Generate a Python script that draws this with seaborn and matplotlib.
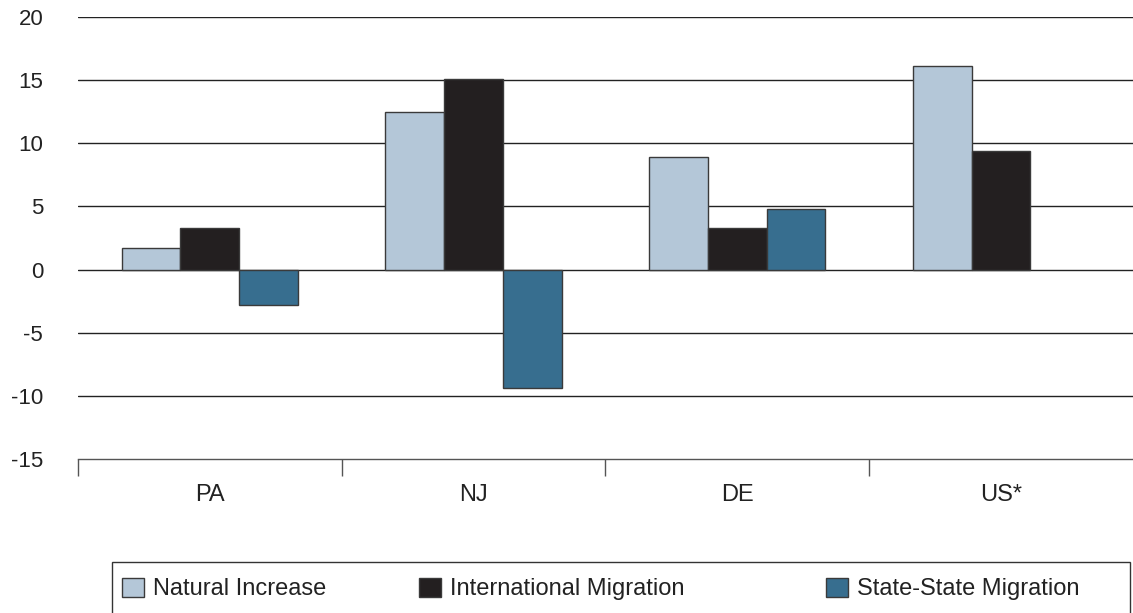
import numpy as np
import pandas as pd
import matplotlib
matplotlib.use("Agg")
import matplotlib.pyplot as plt
import seaborn as sns

# Population change components by state
regions = ["PA", "NJ", "DE", "US*"]
natural_increase = [1.7, 12.5, 8.9, 16.1]
intl_migration = [3.3, 15.1, 3.3, 9.4]
state_migration = [-2.8, -9.4, 4.8, np.nan]
series = ["Natural Increase", "International Migration", "State-State Migration"]
colors = ["#b4c7d8", "#231f20", "#376e8f"]
y_ticks = [-15, -10, -5, 0, 5, 10, 15, 20]

df = pd.DataFrame({
    "region": regions * 3,
    "series": [series[0]] * 4 + [series[1]] * 4 + [series[2]] * 4,
    "value": natural_increase + intl_migration + state_migration,
})

sns.set_theme(style="white")
plt.rcParams["font.family"] = ["Liberation Sans", "DejaVu Sans"]

fig = plt.figure(figsize=(11.33, 6.13), dpi=100)
ax = fig.add_axes([0.0688, 0.2512, 0.9312, 0.7211])

sns.barplot(data=df, x="region", y="value", hue="series", order=regions,
            hue_order=series, palette=colors, saturation=1, width=0.668, ax=ax,
            edgecolor="#3a3a3a", linewidth=1.0, legend=False, errorbar=None)

ax.set_ylim(-15, 20)
ax.set_xlim(-0.5, 3.5)
ax.set_yticks(y_ticks)
ax.set_yticklabels([str(t) for t in y_ticks], fontsize=16, color="#222222")
for t in y_ticks[1:]:
    ax.axhline(t, color="#222222", linewidth=1.0, zorder=0)

for s in ["top", "right", "left"]:
    ax.spines[s].set_visible(False)
ax.spines["bottom"].set_color("#555555")
ax.spines["bottom"].set_linewidth(1.0)

ax.set_xticks(range(len(regions)))
ax.set_xticklabels(regions, fontsize=17, color="#222222")
ax.tick_params(axis="x", which="major", length=0, pad=18)
ax.set_xticks([-0.5, 0.5, 1.5, 2.5], minor=True)
ax.tick_params(axis="x", which="minor", length=12, width=1.0, color="#555555",
               direction="out", bottom=True)
ax.tick_params(axis="y", length=0, pad=25)
ax.set_xlabel("")
ax.set_ylabel("")

# legend frame
frame = plt.Rectangle((112 / 1133, -0.02), 1018 / 1133, 1 - 562 / 613 + 0.02,
                      transform=fig.transFigure, fill=False,
                      edgecolor="#333333", linewidth=1.0)
fig.add_artist(frame)

legend_x = [122, 419, 826]
for label, color, lx in zip(series, colors, legend_x):
    h = plt.Rectangle((0, 0), 1, 1, facecolor=color, edgecolor="#3a3a3a", linewidth=1.0)
    leg = fig.legend([h], [label], loc="center left",
                     bbox_to_anchor=(lx / 1133, 1 - 589 / 613),
                     fontsize=17, frameon=False, handlelength=0.93,
                     handleheight=0.9, handletextpad=0.38, borderpad=0.0,
                     borderaxespad=0.0, labelcolor="#222222")

fig.savefig("out.png", dpi=100)
